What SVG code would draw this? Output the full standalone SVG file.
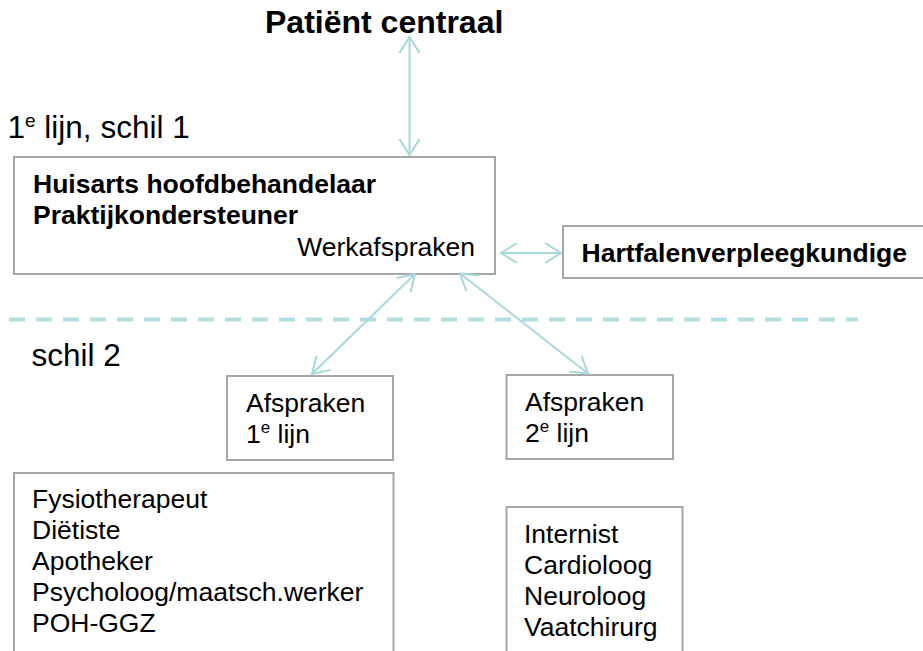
<svg xmlns="http://www.w3.org/2000/svg" width="923" height="651" viewBox="0 0 923 651">
  <style>
    text { font-family: "Liberation Sans", Arial, sans-serif; fill: #000; }
    .body { font-size: 26.5px; }
    .bold { font-size: 26.5px; font-weight: bold; }
    .label { font-size: 31.5px; }
    .title { font-size: 32px; font-weight: bold; }
    .box { fill: #fff; stroke: #a6a6a6; stroke-width: 2; }
    .conn { stroke: #a8d8dc; stroke-width: 2; fill: none; marker-start: url(#arr); marker-end: url(#arr); }
    .dash { stroke: #b3dde0; stroke-width: 4; fill: none; stroke-dasharray: 16 11; }
  </style>
  <defs>
    <marker id="arr" markerUnits="userSpaceOnUse" viewBox="-20 -13 22 26" markerWidth="22" markerHeight="26" refX="0" refY="0" orient="auto-start-reverse">
      <path d="M-16,-10 L0,0 L-16,10" fill="none" stroke="#a8d8dc" stroke-width="2"/>
    </marker>
  </defs>

  <rect width="923" height="651" fill="#fff"/>

  <g id="title">
    <text class="title" x="265" y="33">Patiënt centraal</text>
  </g>

  <g id="label-schil1">
    <text class="label" x="7.5" y="138">1<tspan font-size="19" dy="-11">e</tspan><tspan dy="11"> lijn, schil 1</tspan></text>
  </g>

  <g id="node-huisarts">
    <rect class="box" x="14" y="157" width="481" height="117"/>
    <text class="bold" x="33" y="193">Huisarts hoofdbehandelaar</text>
    <text class="bold" x="33" y="224">Praktijkondersteuner</text>
    <text class="body" x="475" y="256" text-anchor="end">Werkafspraken</text>
  </g>

  <g id="node-hartfalen">
    <rect class="box" x="563" y="226" width="380" height="52"/>
    <text class="bold" x="581.5" y="262">Hartfalenverpleegkundige</text>
  </g>

  <g id="label-schil2">
    <text class="label" x="31.5" y="365.5">schil 2</text>
  </g>

  <g id="node-afspraken1">
    <rect class="box" x="227" y="376" width="166" height="84"/>
    <text class="body" x="246" y="411.5">Afspraken</text>
    <text class="body" x="246" y="443">1<tspan font-size="17" dy="-10">e</tspan><tspan dy="10"> lijn</tspan></text>
  </g>

  <g id="node-afspraken2">
    <rect class="box" x="506.5" y="375" width="166.5" height="84"/>
    <text class="body" x="525" y="411">Afspraken</text>
    <text class="body" x="525" y="442">2<tspan font-size="17" dy="-10">e</tspan><tspan dy="10"> lijn</tspan></text>
  </g>

  <g id="node-list1">
    <rect class="box" x="14" y="473" width="379.5" height="200"/>
    <text class="body" x="32" y="508">Fysiotherapeut</text>
    <text class="body" x="32" y="539">Diëtiste</text>
    <text class="body" x="32" y="570">Apotheker</text>
    <text class="body" x="32" y="601">Psycholoog/maatsch.werker</text>
    <text class="body" x="32" y="632">POH-GGZ</text>
  </g>

  <g id="node-list2">
    <rect class="box" x="506.5" y="507" width="176" height="170"/>
    <text class="body" x="524" y="543">Internist</text>
    <text class="body" x="524" y="574">Cardioloog</text>
    <text class="body" x="524" y="605">Neuroloog</text>
    <text class="body" x="524" y="636">Vaatchirurg</text>
  </g>

  <g id="connectors">
    <line class="dash" x1="9" y1="319.5" x2="858" y2="319.5"/>
    <line class="conn" x1="409.5" y1="37" x2="409.5" y2="155"/>
    <line class="conn" x1="501" y1="253" x2="561" y2="253"/>
    <line class="conn" x1="415" y1="274" x2="312" y2="374"/>
    <line class="conn" x1="460" y1="273.5" x2="588" y2="373.5"/>
  </g>
</svg>
